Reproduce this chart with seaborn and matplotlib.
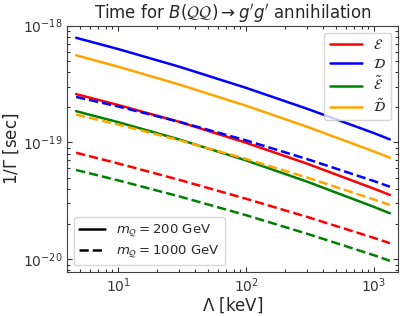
import numpy as np
import matplotlib
matplotlib.use("Agg")
import matplotlib.pyplot as plt
from matplotlib.lines import Line2D
from matplotlib.ticker import NullFormatter
import seaborn as sns

sns.set_theme(style="ticks")
plt.rcParams['font.family'] = ['DejaVu Sans']
plt.rcParams['mathtext.fontset'] = 'dejavusans'

# Lambda [keV] sample points
lam = [4.7, 10, 30, 100, 300, 1000, 1330]

# m_Q = 200 GeV (solid)
E_200 = [2.59e-19, 2.09e-19, 1.50e-19, 9.93e-20, 6.57e-20, 4.01e-20, 3.55e-20]
D_200 = [7.86e-19, 6.30e-19, 4.45e-19, 2.93e-19, 1.94e-19, 1.20e-19, 1.06e-19]
Et_200 = [1.85e-19, 1.49e-19, 1.06e-19, 7.01e-20, 4.61e-20, 2.80e-20, 2.47e-20]
Dt_200 = [5.57e-19, 4.45e-19, 3.13e-19, 2.06e-19, 1.36e-19, 8.35e-20, 7.39e-20]

# m_Q = 1000 GeV (dashed)
E_1000 = [8.15e-20, 6.60e-20, 4.78e-20, 3.29e-20, 2.30e-20, 1.52e-20, 1.37e-20]
D_1000 = [2.45e-19, 2.03e-19, 1.50e-19, 1.04e-19, 7.19e-20, 4.66e-20, 4.17e-20]
Et_1000 = [5.80e-20, 4.73e-20, 3.45e-20, 2.38e-20, 1.65e-20, 1.08e-20, 9.67e-21]
Dt_1000 = [1.73e-19, 1.42e-19, 1.045e-19, 7.21e-20, 5.00e-20, 3.24e-20, 2.91e-20]

labels = [r'$\mathcal{E}$', r'$\mathcal{D}$', r'$\tilde{\mathcal{E}}$', r'$\tilde{\mathcal{D}}$']
colors = ['red', 'blue', 'green', 'orange']

fig = plt.figure(figsize=(4.07, 3.16), dpi=100)
ax = fig.add_axes([0.165, 0.140, 0.813, 0.779])

for vals, c in zip([E_200, D_200, Et_200, Dt_200], colors):
    sns.lineplot(x=lam, y=vals, color=c, lw=1.8, ax=ax, legend=False)
for vals, c in zip([E_1000, D_1000, Et_1000, Dt_1000], colors):
    sns.lineplot(x=lam, y=vals, color=c, lw=1.8, ax=ax, legend=False, linestyle='--')

ax.set_xscale('log')
ax.set_yscale('log')
ax.set_xlim(4.0, 1540)
ax.set_ylim(7.8e-21, 1e-18)
ax.xaxis.set_minor_formatter(NullFormatter())
ax.yaxis.set_minor_formatter(NullFormatter())

ax.tick_params(which='both', direction='in', top=True, right=True, labelsize=10,
               pad=3.5, width=0.8, colors='0.2')
ax.tick_params(which='major', length=3.5)
ax.tick_params(which='minor', length=2)
for s in ax.spines.values():
    s.set_color('0.25')
    s.set_linewidth(0.8)
ax.set_xlabel(r'$\Lambda$ [keV]', fontsize=12, labelpad=0)
ax.set_ylabel(r'1/$\Gamma$ [sec]', fontsize=12, labelpad=1)
ax.set_title(r"Time for $B(\mathcal{QQ}) \to g'g'$ annihilation", fontsize=12, pad=5)

h1 = [Line2D([], [], color=c, lw=1.8) for c in colors]
leg1 = ax.legend(h1, labels, loc='upper right', fontsize=10, handlelength=2.3,
                 labelspacing=0.35)
ax.add_artist(leg1)
h2 = [Line2D([], [], color='black', lw=1.8),
      Line2D([], [], color='black', lw=1.8, linestyle='--')]
ax.legend(h2, [r'$m_{\mathcal{Q}} = 200$ GeV', r'$m_{\mathcal{Q}} = 1000$ GeV'],
          loc='lower left', fontsize=9.5, labelspacing=0.3)

fig.savefig('out.png', dpi=100)
